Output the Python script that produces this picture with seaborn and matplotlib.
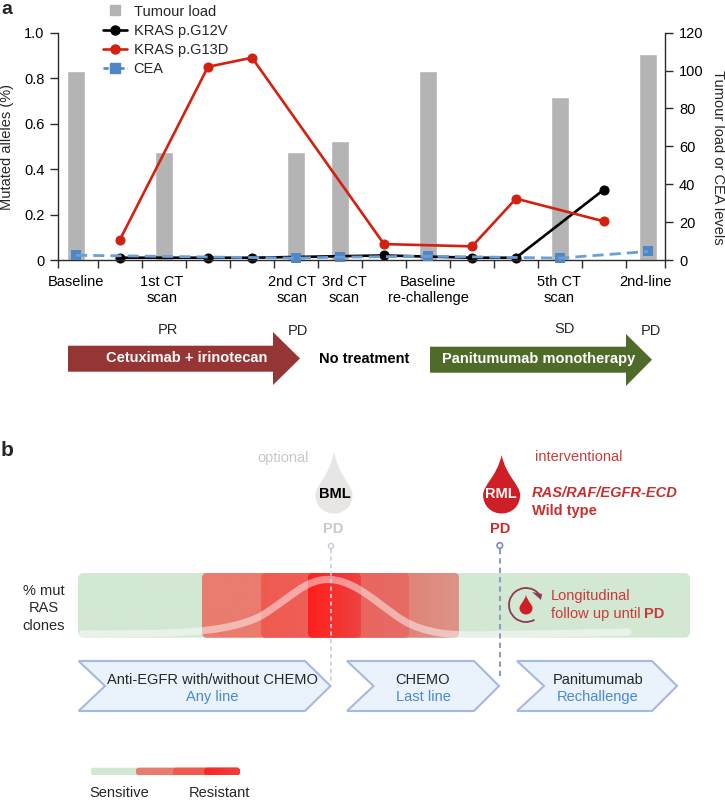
import numpy as np
import pandas as pd
import matplotlib
matplotlib.use("Agg")
import matplotlib.pyplot as plt
import seaborn as sns
from matplotlib.colors import LinearSegmentedColormap
from matplotlib.lines import Line2D
from matplotlib.patches import Arc, Circle, FancyBboxPatch, PathPatch, Polygon
from matplotlib.path import Path

# Panel a data
bar_visits = [0, 2, 5, 6, 8, 11, 13]
tumour_load = [100, 57, 57, 63, 100, 86, 109]
line_visits = [1, 3, 4, 7, 9, 10, 12]
kras_g12v = [0.01, 0.01, 0.01, 0.02, 0.01, 0.01, 0.31]
kras_g13d = [0.09, 0.85, 0.89, 0.07, 0.06, 0.27, 0.17]
cea_visits = [0, 5, 6, 8, 11, 13]
cea_levels = [2.5, 1, 1.5, 2, 1, 4.5]
visit_label_pos = [0, 1.95, 4.9, 6.09, 8, 10.98, 12.95]
visit_labels = ["Baseline", "1st CT\nscan", "2nd CT\nscan", "3rd CT\nscan",
                "Baseline\nre-challenge", "5th CT\nscan", "2nd-line"]
left_ticks = [0, 0.2, 0.4, 0.6, 0.8, 1.0]
left_tick_labels = ["0", "0.2", "0.4", "0.6", "0.8", "1.0"]
right_ticks = [0, 20, 40, 60, 80, 100, 120]

GREY = "#B4B4B4"
RED = "#D4200F"
BLUE = "#4F86C6"
DARK = "#2B2B2B"
FS = 10.5

sns.set_theme(style="ticks")
plt.rcParams["font.family"] = ["Liberation Sans", "DejaVu Sans"]
plt.rcParams["font.size"] = FS

W, H = 725, 801
fig = plt.figure(figsize=(W / 100, H / 100), dpi=100)

# background axes in pixel coordinates for the schematic parts
bg = fig.add_axes([0, 0, 1, 1], zorder=0)
bg.set_axis_off()

ax = fig.add_axes([58.3 / W, 1 - 260 / H, (665 - 58.3) / W, (260 - 32.7) / H], zorder=3)
ax.patch.set_visible(False)
ax_bars = ax.twinx()
ax_bars.set_zorder(2)
ax_cea = ax.twinx()
ax_cea.set_zorder(4)
ax_cea.patch.set_visible(False)

bars = pd.DataFrame({"visit": bar_visits, "load": tumour_load})
sns.barplot(data=bars, x="visit", y="load", ax=ax_bars, color=GREY, saturation=1,
            native_scale=True, width=0.41)

sns.lineplot(x=line_visits, y=kras_g12v, ax=ax, color="black", linewidth=1.9, marker="o",
             markersize=6.5, markeredgecolor="black", clip_on=False, errorbar=None)
sns.lineplot(x=line_visits, y=kras_g13d, ax=ax, color=RED, linewidth=1.9, marker="o",
             markersize=6.5, markeredgecolor=RED, clip_on=False, errorbar=None)
sns.lineplot(x=cea_visits, y=cea_levels, ax=ax_cea, color="#6B9FD8", linewidth=2,
             linestyle=(0, (4, 2.2)), errorbar=None, clip_on=False)
sns.scatterplot(x=cea_visits, y=cea_levels, ax=ax_cea, color=BLUE, marker="s", s=48,
                linewidth=0, clip_on=False)

for a in (ax, ax_bars, ax_cea):
    a.set_xlim(-0.402, 13.386)
    a.set_xlabel("")
    a.set_ylabel("")
ax.set_ylim(0, 1)
ax_bars.set_ylim(0, 120)
ax_cea.set_ylim(0, 120)
ax_cea.set_axis_off()

ax.set_xticks(np.r_[-0.402, np.arange(0.49, 13), 13.386])
ax.set_xticklabels([])
ax.set_xticks(visit_label_pos, visit_labels, minor=True)
ax.tick_params(axis="x", which="major", length=6, width=1, color=DARK, direction="out")
ax.tick_params(axis="x", which="minor", length=0, pad=11, labelsize=FS, labelcolor="black")
for lab in ax.get_xticklabels(minor=True):
    lab.set_linespacing(1.12)
ax.set_yticks(left_ticks, left_tick_labels)
ax.tick_params(axis="y", length=6, width=1, color=DARK, pad=4, labelsize=FS, labelcolor="black")
ax_bars.set_yticks(right_ticks)
ax_bars.tick_params(axis="y", length=6, width=1, color=DARK, pad=4, labelsize=FS, labelcolor="black")
ax_bars.tick_params(axis="x", length=0, labelbottom=False)

for a in (ax, ax_bars):
    a.spines["top"].set_visible(False)
    for s in a.spines.values():
        s.set_color(DARK)
        s.set_linewidth(1)
ax.spines["right"].set_visible(False)
ax_bars.spines["left"].set_visible(False)
ax_bars.spines["bottom"].set_visible(False)

handles = [
    Line2D([], [], marker="s", linestyle="none", color=GREY, markersize=7.5),
    Line2D([], [], marker="o", color="black", linewidth=1.9, markersize=6.5),
    Line2D([], [], marker="o", color=RED, linewidth=1.9, markersize=6.5),
    Line2D([], [], marker="s", color=BLUE, linewidth=1.9, linestyle=(0, (2, 1)), markersize=6.5),
]
fig.legend(handles, ["Tumour load", "KRAS p.G12V", "KRAS p.G13D", "CEA"],
           loc="upper left", bbox_to_anchor=(103 / W, 1 - 4.5 / H), frameon=False, fontsize=FS,
           borderpad=0, borderaxespad=0, handlelength=1.65, handletextpad=0.45, labelspacing=0.36)


def txt(x, y, s, **kw):
    kw.setdefault("ha", "center")
    kw.setdefault("va", "center")
    kw.setdefault("fontsize", FS)
    return bg.text(x, y, s, **kw)


def drop(x, tip, cy, r, color, zorder=3):
    bottom = cy + r
    verts = [(x, tip), (x + r * 0.25, cy - r * 1.0), (x + r, cy - r * 0.55), (x + r, cy),
             (x + r, cy + r * 0.6), (x + r * 0.55, bottom), (x, bottom),
             (x - r * 0.55, bottom), (x - r, cy + r * 0.6), (x - r, cy),
             (x - r, cy - r * 0.55), (x - r * 0.25, cy - r * 1.0), (x, tip), (x, tip)]
    codes = [Path.MOVETO] + [Path.CURVE4] * 12 + [Path.CLOSEPOLY]
    bg.add_patch(PathPatch(Path(verts, codes), facecolor=color, edgecolor="none", zorder=zorder))


def block(x0, x1, y0, y1, colors, zorder, radius=5):
    cmap = LinearSegmentedColormap.from_list("block", colors)
    box = FancyBboxPatch((x0 + radius, y0 + radius), x1 - x0 - 2 * radius, y1 - y0 - 2 * radius,
                         boxstyle=f"round,pad={radius},rounding_size={radius}",
                         facecolor="none", edgecolor="none", zorder=zorder)
    bg.add_patch(box)
    im = bg.imshow(np.linspace(0, 1, 256)[None, :], extent=(x0, x1, y1, y0), aspect="auto",
                   cmap=cmap, vmin=0, vmax=1, zorder=zorder, interpolation="bilinear")
    im.set_clip_path(box)


txt(1, 9, "a", fontweight="bold", fontsize=14, ha="left")
txt(1, 450, "b", fontweight="bold", fontsize=15, ha="left")
txt(7, 147, "Mutated alleles (%)", rotation=90)
txt(718, 157, "Tumour load or CEA levels", rotation=270)

# treatment arrows
bg.add_patch(Polygon([(68, 345.7), (273, 345.7), (273, 332), (300, 358.5), (273, 385),
                      (273, 371.7), (68, 371.7)], facecolor="#953534", edgecolor="none"))
bg.add_patch(Polygon([(430, 346.7), (626, 346.7), (626, 334), (652, 359.7), (626, 386),
                      (626, 372.7), (430, 372.7)], facecolor="#4F6B2A", edgecolor="none"))
txt(187, 358.5, "Cetuximab + irinotecan", color="white", fontweight="bold", zorder=5)
txt(364, 359, "No treatment", color="black", fontweight="bold")
txt(539, 359, "Panitumumab monotherapy", color="white", fontweight="bold", zorder=5)
txt(168, 330, "PR")
txt(298, 331, "PD")
txt(565, 329, "SD")
txt(651, 331, "PD")

# blood draws
txt(283, 458, "optional", color="#C8C8C8")
txt(535, 457, "interventional", color="#CB3C3C", ha="left")
drop(334, 451.7, 495, 18.5, "#E8E6E5")
drop(501.6, 455, 495, 18.5, "#CE1F26")
txt(334.5, 494, "BML", fontweight="bold", color="black", zorder=5)
txt(501, 494, "RML", fontweight="bold", color="white", zorder=5)
txt(532, 493, "RAS/RAF/EGFR-ECD", color="#C8302F", fontweight="bold", fontstyle="italic", ha="left")
txt(532, 511, "Wild type", color="#C8302F", fontweight="bold", ha="left")
txt(333, 529.3, "PD", color="#C9C9C9", fontweight="bold")
txt(500, 529.3, "PD", color="#CB2B2B", fontweight="bold")

# clone bar
block(78, 690, 573, 637.7, ["#D3E8D3", "#D3E8D3"], 1, radius=6)
block(202, 459, 573, 637.7, ["#E97C6E", "#E97C6E", "#E5786E", "#DC9488"], 2)
block(261, 409, 573, 637.7, ["#F05A50", "#E66C66"], 3)
block(308, 361, 573, 637.7, ["#FF1F1B", "#EC4342"], 4)

# white clone curve over the bar
curve = Path([(82, 634), (170, 634), (225, 634), (261, 616), (292, 597), (305, 579.5), (328, 579.5),
              (350, 579.5), (368, 595), (395, 615), (415, 630), (440, 636), (480, 635),
              (540, 634), (590, 633), (628, 632)],
             [Path.MOVETO] + [Path.CURVE4] * 15)
bg.add_patch(PathPatch(curve, facecolor="none", edgecolor="white", alpha=0.48, linewidth=5.2,
                       capstyle="round", zorder=6))

# dashed sampling lines
bg.plot([331, 331], [549, 683], color="#C6CCE2", linewidth=1.2, linestyle=(0, (2.5, 2)), zorder=7)
bg.plot([499.8, 499.8], [549, 680], color="#8E99C6", linewidth=1.5, linestyle=(0, (2.5, 2)), zorder=7)
bg.add_patch(Circle((331, 546), 2.6, facecolor="white", edgecolor="#C6CCE2", linewidth=1, zorder=7))
bg.add_patch(Circle((499.8, 545.5), 2.8, facecolor="white", edgecolor="#7F8CBE", linewidth=1.2, zorder=7))

txt(44, 591, "% mut")
txt(44, 608, "RAS")
txt(44, 626, "clones")

# longitudinal follow up icon
bg.add_patch(Arc((526, 605), 34, 34, theta1=60, theta2=330, color="#8E3A55",
                 linewidth=1.3, zorder=5))
bg.add_patch(Polygon([(542, 594), (532, 592), (541, 600)], facecolor="#8E3A55", edgecolor="none", zorder=5))
drop(526, 595, 608, 6.5, "#CE1F26", zorder=5)
txt(551, 596, "Longitudinal", color="#C8393A", ha="left")
txt(551, 614, "follow up until ", color="#C8393A", ha="left")
txt(644, 614, "PD", color="#C8393A", ha="left", fontweight="bold")


# treatment chevrons
def chevron(x0, notch, shoulder, tip):
    bg.add_patch(Polygon([(x0, 661), (shoulder, 661), (tip, 686), (shoulder, 711), (x0, 711), (notch, 686)],
                         facecolor="#EAF2FB", edgecolor="#A6B9DE", linewidth=1.5, zorder=2))


chevron(78.6, 105, 305, 330.5)
chevron(347, 373.5, 474, 499)
chevron(517, 544, 652, 677)
txt(212, 680, "Anti-EGFR with/without CHEMO", zorder=5)
txt(212, 697, "Any line", color="#4A8ACB", zorder=5)
txt(423, 680, "CHEMO", zorder=5)
txt(423, 697, "Last line", color="#4A8ACB", zorder=5)
txt(598, 680, "Panitumumab", zorder=5)
txt(598, 697, "Rechallenge", color="#4A8ACB", zorder=5)

# colour key
block(90.6, 240, 767.7, 775.3, ["#D3E8D3", "#D3E8D3"], 1, radius=3)
block(136, 240, 767.7, 775.3, ["#E97C6E", "#E97C6E"], 2, radius=3)
block(173, 240, 767.7, 775.3, ["#F05A50", "#F05A50"], 3, radius=3)
block(204, 240, 767.7, 775.3, ["#FF2420", "#F04040"], 4, radius=3)
txt(119, 793, "Sensitive")
txt(219, 793, "Resistant")

bg.set_xlim(0, W)
bg.set_ylim(H, 0)

fig.savefig("out.png", dpi=100)
